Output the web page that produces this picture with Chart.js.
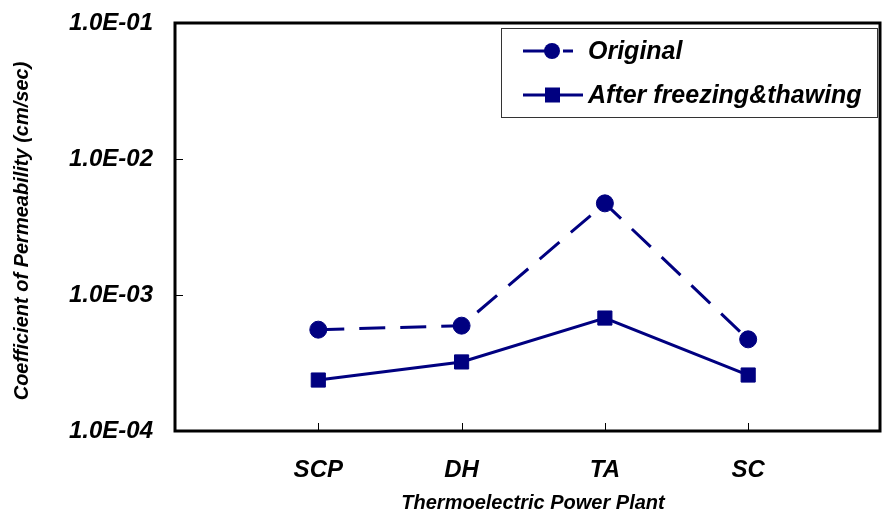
<!DOCTYPE html>
<html>
<head>
<meta charset="utf-8">
<script src="https://cdn.jsdelivr.net/npm/chart.js@4"></script>
<style>
  html, body { margin: 0; padding: 0; background: #fff; }
  #wrap { width: 882px; height: 514px; }
</style>
</head>
<body>
<div id="wrap"><canvas id="myChart" width="882" height="514"></canvas></div>
<script>
// data
const plants = ['SCP', 'DH', 'TA', 'SC'];
const original = [5.56e-4, 5.95e-4, 4.72e-3, 4.72e-4];
const afterFreezeThaw = [2.37e-4, 3.22e-4, 6.77e-4, 2.58e-4];
const yTickValues = [1e-4, 1e-3, 1e-2, 1e-1];
const yTickLabels = ['1.0E-04', '1.0E-03', '1.0E-02', '1.0E-01'];

const navy = '#000080';
const font = 'Liberation Sans, Arial, sans-serif';

const toPoints = (arr) => arr.map((v, i) => ({ x: i + 1, y: v }));

// box round plot, inward ticks, custom legend and axis titles
const extras = {
    id: 'extras',
    afterDraw(chart) {
        const c = chart.ctx;
        const a = chart.chartArea;
        const xs = chart.scales.x;
        const ys = chart.scales.y;
        c.save();

        c.strokeStyle = '#000';
        c.lineWidth = 1;
        yTickValues.slice(1, -1).forEach(v => {
            const y = Math.round(ys.getPixelForValue(v)) + 0.5;
            c.beginPath(); c.moveTo(a.left, y); c.lineTo(a.left + 8, y); c.stroke();
        });
        plants.forEach((p, i) => {
            const x = Math.round(xs.getPixelForValue(i + 1)) + 0.5;
            c.beginPath(); c.moveTo(x, a.bottom); c.lineTo(x, a.bottom - 8); c.stroke();
        });

        c.lineWidth = 3;
        c.strokeRect(a.left, a.top, a.right - a.left, a.bottom - a.top);

        // legend
        const lx = 501, ly = 28, lw = 376, lh = 89;
        c.fillStyle = '#fff';
        c.fillRect(lx, ly, lw, lh);
        c.lineWidth = 1;
        c.strokeStyle = '#333';
        c.strokeRect(lx + 0.5, ly + 0.5, lw, lh);

        const items = [
            { text: 'Original', y: 51, x2: 573, dash: [26, 14, 10, 100], style: 'circle' },
            { text: 'After freezing&thawing', y: 95, x2: 583, dash: [], style: 'rect' }
        ];
        items.forEach(it => {
            c.strokeStyle = navy;
            c.fillStyle = navy;
            c.lineWidth = 3;
            c.setLineDash(it.dash);
            c.beginPath(); c.moveTo(523, it.y); c.lineTo(it.x2, it.y); c.stroke();
            c.setLineDash([]);
            if (it.style === 'circle') {
                c.beginPath(); c.arc(552, it.y, 8, 0, Math.PI * 2); c.fill();
            } else {
                c.fillRect(545, it.y - 7.5, 15, 15);
            }
            c.fillStyle = '#000';
            c.font = 'italic bold 25px ' + font;
            c.textAlign = 'left';
            c.textBaseline = 'middle';
            c.fillText(it.text, 588, it.y + 1);
        });

        // axis titles
        c.fillStyle = '#000';
        c.font = 'italic bold 20px ' + font;
        c.textAlign = 'center';
        c.textBaseline = 'middle';
        c.fillText('Thermoelectric Power Plant', 533, 503);
        c.translate(22, 231);
        c.rotate(-Math.PI / 2);
        c.fillText('Coefficient of Permeability (cm/sec)', 0, 0);

        c.restore();
    }
};

const ctx = document.getElementById('myChart');

const myChart = new Chart(ctx, {
    type: 'line',
    data: {
        datasets: [{
            label: 'Original',
            data: toPoints(original),
            borderColor: navy,
            backgroundColor: navy,
            borderWidth: 3,
            borderDash: [26, 15],
            pointStyle: 'circle',
            pointRadius: 8.5,
            pointHoverRadius: 8.5,
            pointBorderWidth: 1,
            tension: 0,
        }, {
            label: 'After freezing&thawing',
            data: toPoints(afterFreezeThaw),
            borderColor: navy,
            backgroundColor: navy,
            borderWidth: 3,
            pointStyle: 'rect',
            pointRadius: 10,
            pointHoverRadius: 10,
            pointBorderWidth: 1,
            tension: 0,
        }],
    },
    options: {
        responsive: false,
        animation: false,
        layout: { autoPadding: false, padding: { top: 23, right: 2, left: 0, bottom: 0 } },
        plugins: {
            legend: { display: false },
            tooltip: { enabled: false },
        },
        scales: {
            x: {
                type: 'linear',
                min: 0,
                max: 4.92,
                grid: { display: false, drawTicks: false },
                border: { display: false },
                afterBuildTicks: (s) => { s.ticks = plants.map((p, i) => ({ value: i + 1 })); },
                afterFit: (s) => { s.height = 83; s.paddingLeft = 0; s.paddingRight = 0; },
                ticks: {
                    autoSkip: false,
                    maxRotation: 0,
                    padding: 25,
                    color: '#000',
                    font: { family: font, size: 24, style: 'italic', weight: 'bold' },
                    callback: (v) => plants[Math.round(v) - 1] || '',
                },
            },
            y: {
                type: 'logarithmic',
                min: 1e-4,
                max: 1e-1,
                grid: { display: false, drawTicks: false },
                border: { display: false },
                afterBuildTicks: (s) => { s.ticks = yTickValues.map(v => ({ value: v })); },
                afterFit: (s) => { s.width = 175; s.paddingTop = 0; s.paddingBottom = 0; },
                ticks: {
                    autoSkip: false,
                    padding: 22,
                    color: '#000',
                    font: { family: font, size: 24, style: 'italic', weight: 'bold' },
                    callback: (v) => yTickLabels[yTickValues.findIndex(t => Math.abs(t - v) / t < 1e-6)],
                },
            },
        },
    },
    plugins: [extras],
});
</script>
</body>
</html>
